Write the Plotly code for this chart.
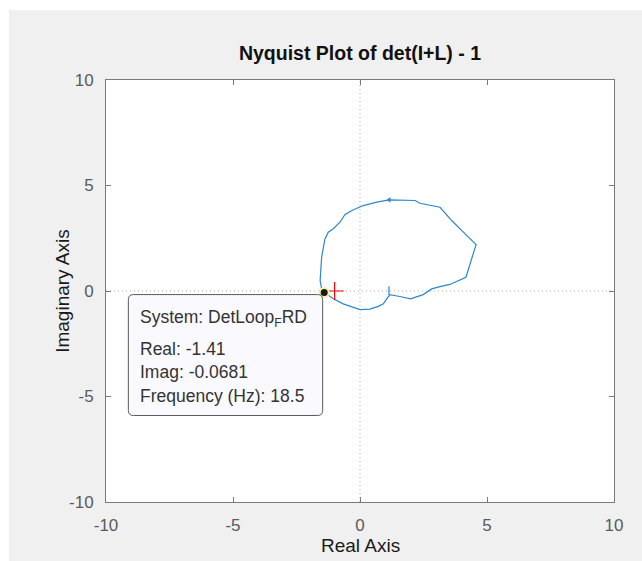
import plotly.graph_objects as go

# Nyquist response of det(I+L) - 1 (real / imaginary parts)
re_vals = [1.14, 1.14, 1.57, 1.99, 2.49, 2.82, 3.15, 3.54, 4.17, 4.40, 4.57, 4.07,
           3.61, 3.15, 2.36, 2.17, 1.57, 1.15, 0.66, 0.13, -0.26, -0.59, -0.79,
           -1.05, -1.25, -1.38, -1.44, -1.51, -1.54, -1.57, -1.51, -1.41, -1.05,
           -0.66, 0.00, 0.39, 0.72, 0.92, 1.05, 1.18]
im_vals = [0.22, -0.17, -0.26, -0.37, -0.17, 0.10, 0.21, 0.31, 0.65, 1.53, 2.20, 2.79,
           3.34, 3.97, 4.16, 4.29, 4.32, 4.32, 4.21, 4.05, 3.85, 3.63, 3.26,
           2.95, 2.79, 2.47, 2.08, 1.60, 1.05, 0.50, 0.10, -0.0681, -0.37,
           -0.61, -0.88, -0.86, -0.73, -0.61, -0.37, -0.17]

# direction marker on the upper arc
arrow_re = [1.15]
arrow_im = [4.32]

# critical point
crit_re = [-1.0]
crit_im = [0.0]

# data tip
tip_system = "DetLoop<sub>F</sub>RD"
tip_real = -1.41
tip_imag = -0.0681
tip_freq = 18.5

tick_vals = [-10, -5, 0, 5, 10]
tick_text = ["-10", "-5", "0", "5", "10"]

FONT = "Liberation Sans, Arial, Helvetica, sans-serif"
BLUE = "#2a87d0"

fig = go.Figure()

fig.add_trace(go.Scatter(x=re_vals, y=im_vals, mode="lines",
                         line=dict(color=BLUE, width=1.2), hoverinfo="skip"))
fig.add_trace(go.Scatter(x=arrow_re, y=arrow_im, mode="markers",
                         marker=dict(symbol="triangle-left", size=5, color=BLUE),
                         hoverinfo="skip"))
fig.add_trace(go.Scatter(x=crit_re, y=crit_im, mode="markers",
                         marker=dict(symbol="cross-thin", size=13,
                                     line=dict(color="#ff0000", width=1.2)),
                         hoverinfo="skip"))
fig.add_trace(go.Scatter(x=[tip_real], y=[tip_imag], mode="markers",
                         marker=dict(symbol="circle", size=9, color="#1a1a1a",
                                     line=dict(color="#f4f0a8", width=2)),
                         hoverinfo="skip"))

shapes = []
# dotted zero lines
shapes.append(dict(type="line", xref="x", yref="paper", x0=0, x1=0, y0=0, y1=1,
                   line=dict(color="#a8a8a8", width=1, dash="1px,3px"), layer="below"))
shapes.append(dict(type="line", xref="paper", yref="y", x0=0, x1=1, y0=0, y1=0,
                   line=dict(color="#a8a8a8", width=1, dash="1px,3px"), layer="below"))

# data-tip box with rounded corners
bx0, bx1, by0, by1 = -9.12, -1.47, -5.90, -0.17
rx, ry = 0.2, 0.24
path = (f"M {bx0+rx},{by1} L {bx1-rx},{by1} Q {bx1},{by1} {bx1},{by1-ry} "
        f"L {bx1},{by0+ry} Q {bx1},{by0} {bx1-rx},{by0} L {bx0+rx},{by0} "
        f"Q {bx0},{by0} {bx0},{by0+ry} L {bx0},{by1-ry} Q {bx0},{by1} {bx0+rx},{by1} Z")
shapes.append(dict(type="path", xref="x", yref="y", path=path,
                   fillcolor="#fafafe", line=dict(color="#5a5a5a", width=1),
                   layer="above"))

# white margin strips around the grey figure area
shapes.append(dict(type="rect", xref="paper", yref="paper", x0=-0.3, x1=1.2,
                   y0=1.1659, y1=1.3, fillcolor="white", line=dict(width=0),
                   layer="below"))
shapes.append(dict(type="rect", xref="paper", yref="paper", x0=-0.3, x1=-0.191,
                   y0=-0.3, y1=1.3, fillcolor="white", line=dict(width=0),
                   layer="below"))

tip_lines = [f"System: {tip_system}",
             f"Real: {tip_real:g}",
             f"Imag: {tip_imag:g}",
             f"Frequency (Hz): {tip_freq:g}"]
tip_y = [-1.30, -2.73, -3.82, -4.96]

annotations = []
for txt, yy in zip(tip_lines, tip_y):
    annotations.append(dict(x=-8.74, y=yy, xref="x", yref="y", text=txt,
                            showarrow=False, xanchor="left", yanchor="middle",
                            font=dict(family=FONT, size=17.5, color="#333333")))

annotations.append(dict(x=0.5, y=-0.103, xref="paper", yref="paper", text="Real Axis",
                        showarrow=False, xanchor="center", yanchor="middle",
                        font=dict(family=FONT, size=19, color="#1a1a1a")))
annotations.append(dict(x=-0.087, y=0.5, xref="paper", yref="paper",
                        text="Imaginary Axis", textangle=-90,
                        showarrow=False, xanchor="center", yanchor="middle",
                        font=dict(family=FONT, size=19, color="#1a1a1a")))

axis_common = dict(range=[-10, 10], tickmode="array", tickvals=tick_vals,
                   ticktext=tick_text, ticks="inside", ticklen=5, tickwidth=1,
                   tickcolor="#7a7a7a", showline=True, linecolor="#7a7a7a",
                   linewidth=1, mirror="allticks", showgrid=False, zeroline=False,
                   tickfont=dict(family=FONT, size=17, color="#5a5a5a"),
                   ticklabelstandoff=8, fixedrange=True)

fig.update_layout(
    width=642, height=561,
    margin=dict(l=106, r=28, t=80, b=59, autoexpand=False),
    paper_bgcolor="#f0f0f0", plot_bgcolor="white",
    showlegend=False,
    title=dict(text="<b>Nyquist Plot of det(I+L) - 1</b>", x=0.5607, xanchor="center",
               y=1 - 53 / 561, yanchor="middle", yref="container",
               font=dict(family=FONT, size=19.5, color="#111111")),
    xaxis=axis_common, yaxis=axis_common,
    shapes=shapes, annotations=annotations,
)

fig.write_html("out.html")
